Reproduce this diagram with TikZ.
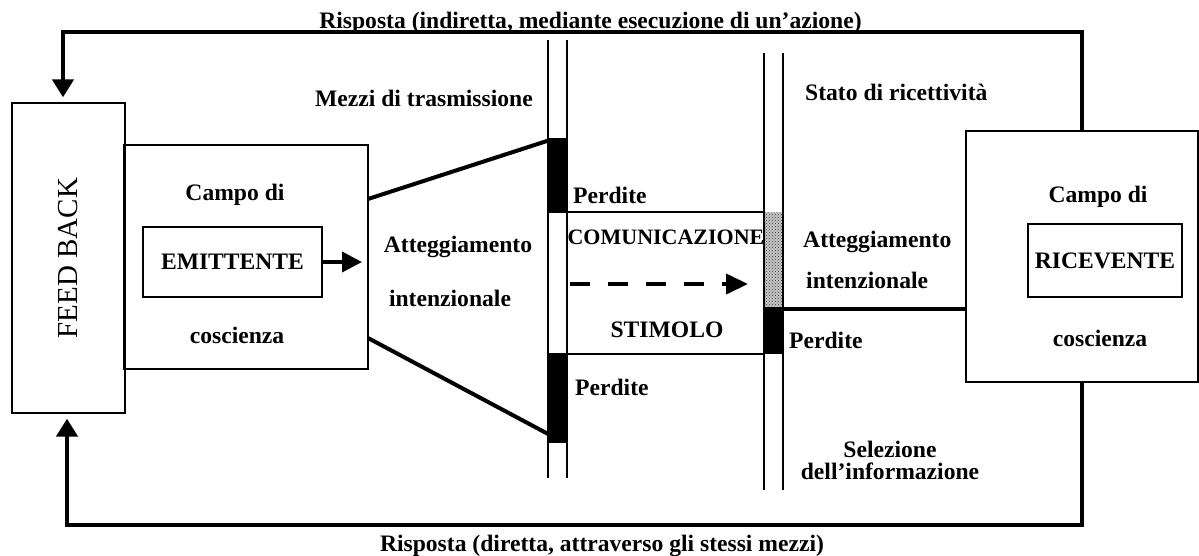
\documentclass[tikz,border=0pt]{standalone}
\usepackage{fontspec}
\setmainfont{Liberation Serif}
\usetikzlibrary{arrows.meta,patterns}

\begin{document}
\begin{tikzpicture}[x=1pt,y=-1pt,
  box/.style={draw, line width=1.3pt, inner sep=0pt},
  lbl/.style={font=\bfseries\fontsize{23.6}{26}\selectfont, inner sep=0pt},
  wall/.style={line width=1.3pt},
  cone/.style={line width=4pt},
  loop/.style={line width=4.3pt, -{Triangle[length=18pt,width=21pt]}, shorten >=5pt},
  push/.style={line width=3.6pt, -{Triangle[length=20pt,width=20pt]}},
]
\useasboundingbox (0,0) rectangle (1199,555);

% ---- boxes ----
\node[box, minimum width=113pt, minimum height=310pt] (fb) at (68.5,258) {};
\node[rotate=90, font=\fontsize{29}{32}\selectfont, inner sep=0pt] (fbtext) at (fb.center) {FEED BACK};

\node[box, minimum width=244pt, minimum height=224pt] (em) at (246,257) {};
\node[box, minimum width=179pt, minimum height=70pt] (emi) at (232.5,262) {};
\node[lbl] (emit) at (emi.center) {EMITTENTE};
\node[lbl] (emtop) at (235,195) {Campo di};
\node[lbl] (embot) at (237,335) {coscienza};

\node[box, minimum width=232pt, minimum height=251pt] (rc) at (1082,256.5) {};
\node[box, minimum width=154pt, minimum height=73pt] (rci) at (1105,260.5) {};
\node[lbl] (rict) at (rci.center) {RICEVENTE};
\node[lbl] (rctop) at (1098,197) {Campo di};
\node[lbl] (rcbot) at (1100,338) {coscienza};

% ---- transmission channel (left wall) ----
\coordinate (lwA) at (548,40);
\coordinate (lwB) at (567,40);
\fill (548,138) rectangle (567,213);
\fill (548,353) rectangle (567,443);
\draw[wall] (lwA) -- (548,478);
\draw[wall] (lwB) -- (567,478);

% ---- receptivity wall (right) ----
\coordinate (rwA) at (764,53);
\coordinate (rwB) at (783,53);
\fill[black!22] (764,212) rectangle (783,307);
\fill[pattern=crosshatch dots, pattern color=black!80] (764,212) rectangle (783,307);
\fill (764,307) rectangle (783,354);
\draw[wall] (rwA) -- (764,490);
\draw[wall] (rwB) -- (783,490);

% ---- communication strip ----
\draw[wall] (567,212) -- (764,212);
\draw[wall] (567,354) -- (764,354);

% ---- cone of transmission ----
\coordinate (cu) at (368,199);
\coordinate (cd) at (368,338);
\coordinate (cuR) at (550,140);
\coordinate (cdR) at (550,435);
\draw[cone] (cu) -- (cuR);
\draw[cone] (cd) -- (cdR);

% ---- link from wall to receiver ----
\coordinate (lk) at (783,309);
\draw[line width=3.5pt] (lk) -- (lk -| rc.west);

% ---- sender arrow ----
\coordinate (emtip) at (362,262);
\draw[push] (emi.east) -- (emtip);

% ---- stimulus arrow ----
\coordinate (st0) at (570,284);
\coordinate (st1) at (748,284);
\draw[line width=4pt, dash pattern=on 20pt off 18pt, -{Triangle[length=22pt,width=20pt]}] (st0) -- (st1);

% ---- feedback loops ----
\coordinate (tc) at (63,32);
\coordinate (bc) at (67,525);
\draw[loop] (rc.north) |- (tc) -- (tc |- fb.north);
\draw[loop] (rc.south) |- (bc) -- (bc |- fb.south);

% ---- labels ----
\node[lbl, anchor=base, fill=white, inner xsep=1pt] (top) at (590.5,28) {Risposta (indiretta, mediante esecuzione di un’azione)};
\draw[line width=4.3pt] (top.south west |- tc) -- (top.south east |- tc);
\node[lbl, anchor=base] (bot) at (602,551) {Risposta (diretta, attraverso gli stessi mezzi)};

\node[lbl, anchor=west] (mezzi) at (315,98) {Mezzi di trasmissione};
\node[lbl, anchor=west] (stato) at (805,92) {Stato di ricettività};

\node[lbl] (at1) at (458,247) {Atteggiamento};
\node[lbl] (at2) at (450,298) {intenzionale};

\node[lbl, anchor=west] (p1) at (573,195) {Perdite};
\node[lbl, font=\bfseries\fontsize{22}{24}\selectfont] (com) at (666,237) {COMUNICAZIONE};
\node[lbl] (stim) at (667,330) {STIMOLO};
\node[lbl, anchor=west] (p2) at (575,387) {Perdite};

\node[lbl, anchor=west] (at3) at (803,242) {Atteggiamento};
\node[lbl, anchor=west] (at4) at (806,280) {intenzionale};
\node[lbl, anchor=west] (p3) at (789,340) {Perdite};

\node[lbl, align=center, font=\bfseries\fontsize{23.6}{22}\selectfont] (sel) at (890,460) {Selezione\\dell’informazione};
\end{tikzpicture}
\end{document}
